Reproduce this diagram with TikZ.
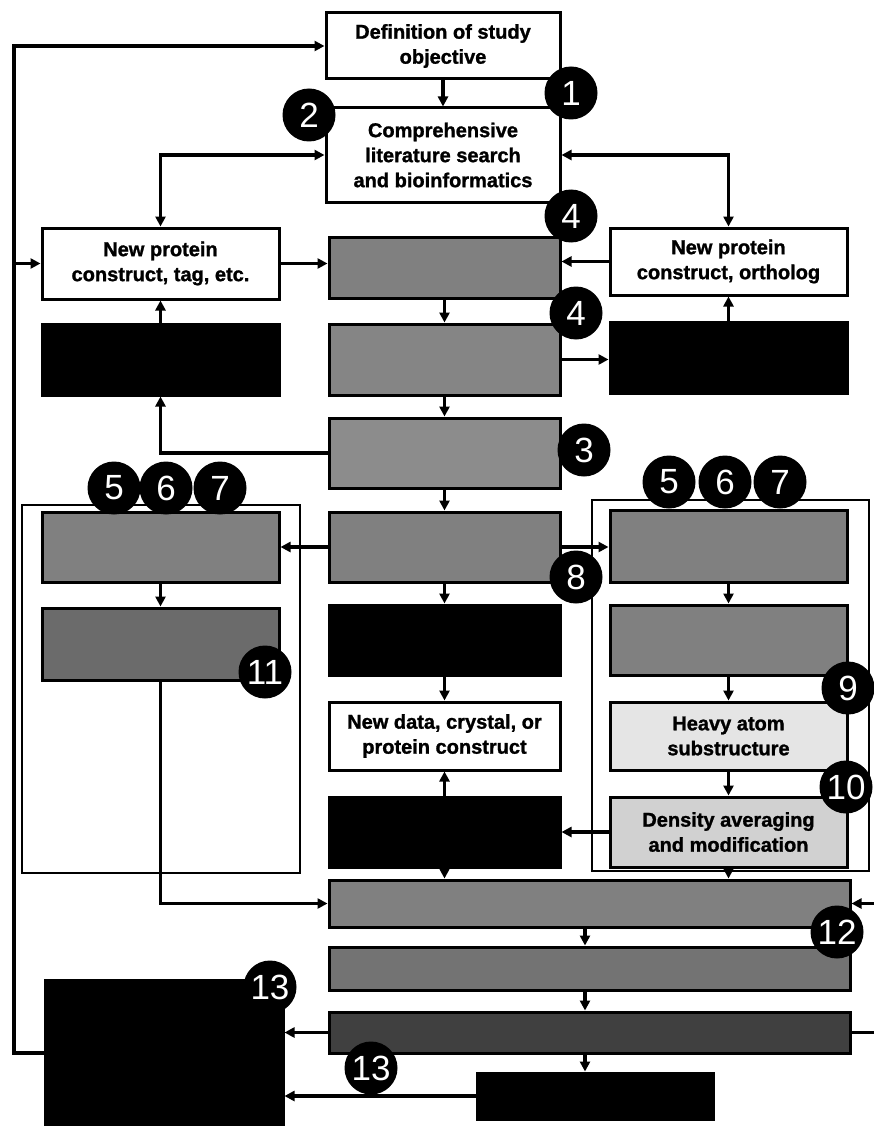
\documentclass[tikz,border=0pt]{standalone}
\usepackage{fontspec}
\setmainfont{Liberation Sans}
\newfontfamily\heavyfont[FakeBold=1.3]{Liberation Sans Bold}
\usetikzlibrary{arrows.meta}
\newcommand\boxfont{\fontsize{20}{25}\selectfont\heavyfont}
\newcommand\badgefont{\fontsize{35}{35}\selectfont}
\tikzset{
  wbox/.style={draw, line width=3pt, fill=white, align=center, inner sep=0pt, font=\boxfont},
  gbox/.style={draw, line width=3pt, fill=#1, inner sep=0pt},
  kbox/.style={draw, line width=3pt, fill=black, inner sep=0pt},
  conn/.style={line width=3.2pt},
  arr/.style={conn, -{Triangle[length=10pt,width=10pt]}},
  arrb/.style={conn, {Triangle[length=10pt,width=10pt]}-{Triangle[length=10pt,width=10pt]}},
  frame/.style={draw, line width=2pt},
  badge/.style={circle, fill=black, text=white, minimum size=53pt, inner sep=0pt, font=\badgefont},
}
\begin{document}
\begin{tikzpicture}[x=1pt, y=-1pt]
\useasboundingbox (0,0) rectangle (874,1126);
\fill[white] (0,0) rectangle (874,1126);
% outer frames
\draw[frame] (22,505) rectangle (300,873);
\draw[frame] (592,500) rectangle (869,871);
% helper coordinates
\coordinate (lb) at (14,0);
\coordinate (R) at (874,0);
\coordinate (mx) at (585,0);
% boxes
\node[wbox, minimum width=234pt, minimum height=66pt] (b1) at (443,46) {Definition of study\\objective};
\node[wbox, minimum width=234pt, minimum height=94pt] (b2) at (443,155) {Comprehensive\\literature search\\and bioinformatics};
\node[wbox, minimum width=237pt, minimum height=71pt] (lnew) at (160.5,263.5) {New protein\\construct, tag, etc.};
\node[gbox=black!50, minimum width=231pt, minimum height=61pt] (c4a) at (444.5,267.5) {};
\node[wbox, minimum width=237pt, minimum height=67pt] (rnew) at (728.5,261.5) {New protein\\construct, ortholog};
\node[kbox, minimum width=237pt, minimum height=71pt] (lblk) at (160.5,359.5) {};
\node[gbox=black!48, minimum width=231pt, minimum height=71pt] (c4b) at (444.5,359.5) {};
\node[kbox, minimum width=237pt, minimum height=71pt] (rblk) at (728.5,357.5) {};
\node[gbox=black!45, minimum width=231pt, minimum height=70pt] (c3) at (444.5,453) {};
\node[gbox=black!50, minimum width=237pt, minimum height=70pt] (lgA) at (160.5,547) {};
\node[gbox=black!50, minimum width=231pt, minimum height=70pt] (c8) at (444.5,547) {};
\node[gbox=black!50, minimum width=237pt, minimum height=72pt] (rgA) at (728.5,546) {};
\node[gbox=black!58, minimum width=237pt, minimum height=72pt] (lgB) at (160.5,644) {};
\node[kbox, minimum width=231pt, minimum height=70pt] (cblk) at (444.5,640) {};
\node[gbox=black!50, minimum width=237pt, minimum height=70pt] (rgB) at (728.5,640) {};
\node[wbox, minimum width=231pt, minimum height=68pt] (cnew) at (444.5,736) {New data, crystal, or\\protein construct};
\node[wbox, fill=black!10, minimum width=237pt, minimum height=68pt] (heavy) at (728.5,736) {Heavy atom\\substructure};
\node[kbox, minimum width=231pt, minimum height=70pt] (cblk2) at (444.5,832) {};
\node[wbox, fill=black!18, minimum width=237pt, minimum height=70pt] (dens) at (728.5,832) {Density averaging\\and modification};
\node[gbox=black!50, minimum width=521pt, minimum height=47pt] (b12) at (589.5,903.5) {};
\node[gbox=black!55, minimum width=521pt, minimum height=43pt] (bu) at (589.5,968.5) {};
\node[gbox=black!75, minimum width=521pt, minimum height=41pt] (b13) at (590,1032.5) {};
\node[kbox, minimum width=238pt, minimum height=146pt] (lblk13) at (164,1053) {};
\node[kbox, minimum width=236pt, minimum height=46pt] (bbot) at (595,1096) {};
% connectors
\draw[arr] (b1.south) -- (b1.south |- b2.north);
\draw[arrb] (b2.west) -| (lnew.north);
\draw[arrb] (b2.east) -| (rnew.north);
\draw[arr] (lblk13.west) -- (lblk13.west -| lb) -- (lb |- b1.west) -- (b1.west);
\draw[arr] (lb |- lnew.west) -- (lnew.west);
\draw[arr] (lnew.east) -- (lnew.east -| c4a.west);
\draw[arr] (rnew.west) -- (rnew.west -| c4a.east);
\draw[arr] (c4a.south) -- (c4b.north);
\draw[arr] (lblk.north) -- (lnew.south);
\draw[arr] (rblk.north) -- (rnew.south);
\draw[arr] (c4b.east) -- (c4b.east -| rblk.west);
\draw[arr] (c4b.south) -- (c3.north);
\draw[arr] (c3.west) -| (lblk.south);
\draw[arr] (c3.south) -- (c8.north);
\draw[arr] (c8.west) -- (lgA.east);
\draw[arr] (c8.east) -- (c8.east -| rgA.west);
\draw[arr] (lgA.south) -- (lgB.north);
\draw[arr] (c8.south) -- (cblk.north);
\draw[arr] (rgA.south) -- (rgB.north);
\draw[arr] (cblk.south) -- (cnew.north);
\draw[arr] (rgB.south) -- (heavy.north);
\draw[arr] (heavy.south) -- (dens.north);
\draw[arr] (cblk2.north) -- (cnew.south);
\draw[arr] (dens.west) -- (cblk2.east);
\draw[arr] (cblk2.south) -- (cblk2.south |- b12.north);
\draw[arr] (dens.south) -- (dens.south |- b12.north);
\draw[arr] (lgB.south) |- (b12.west);
\draw[arr] (R |- b12.east) -- (b12.east);
\draw[arr] (mx |- b12.south) -- (mx |- bu.north);
\draw[arr] (mx |- bu.south) -- (mx |- b13.north);
\draw[arr] (mx |- b13.south) -- (mx |- bbot.north);
\draw[conn] (b13.east) -- (R |- b13.east);
\draw[arr] (b13.west) -- (b13.west -| lblk13.east);
\draw[arr] (bbot.west) -- (bbot.west -| lblk13.east);
% badges
\node[badge] (n1) at (571,93) {1};
\node[badge] (n2) at (309,115) {2};
\node[badge] (n4a) at (571,216) {4};
\node[badge] (n4b) at (576,313) {4};
\node[badge] (n3) at (584,450) {3};
\node[badge] (l5) at (114,488) {5};
\node[badge] (l6) at (166,488) {6};
\node[badge] (l7) at (220,488) {7};
\node[badge] (r5) at (669,482) {5};
\node[badge] (r6) at (725,482) {6};
\node[badge] (r7) at (780,482) {7};
\node[badge] (n8) at (576,577) {8};
\node[badge] (n11) at (265,672) {11};
\node[badge] (n9) at (848,688) {9};
\node[badge] (n10) at (846,787) {10};
\node[badge] (n12) at (837,932) {12};
\node[badge] (n13a) at (270,987) {13};
\node[badge] (n13b) at (371,1068) {13};
\end{tikzpicture}
\end{document}
